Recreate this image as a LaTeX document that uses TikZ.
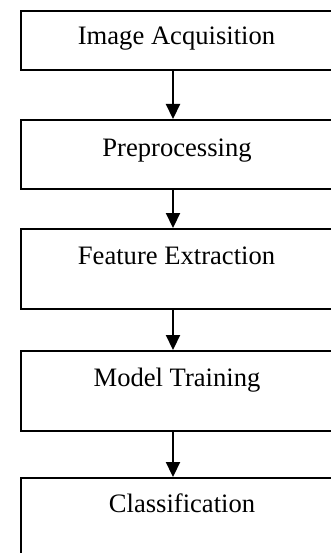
\documentclass[tikz,border=0pt]{standalone}
\usepackage{fontspec}
\setmainfont{Liberation Serif}
\usetikzlibrary{arrows.meta}
\begin{document}
\begin{tikzpicture}[x=1pt,y=-1pt,
  stagebox/.style={draw=black,line width=1.8pt,rectangle,inner sep=0pt,anchor=north west},
  stagetext/.style={anchor=base,inner sep=0pt,font=\fontsize{26.6}{30}\selectfont},
  flowarrow/.style={line width=2.2pt,-{Triangle[length=15pt,width=14pt]}}]
\useasboundingbox (0,0) rectangle (331,553);
\clip (0,0) rectangle (331,553);
\node[stagebox,minimum width=330pt,minimum height=59pt] (b1) at (20,10) {};
\node[stagebox,minimum width=330pt,minimum height=69pt] (b2) at (20,119) {};
\node[stagebox,minimum width=330pt,minimum height=80pt] (b3) at (20,228) {};
\node[stagebox,minimum width=330pt,minimum height=80pt] (b4) at (20,350) {};
\node[stagebox,minimum width=330pt,minimum height=100pt] (b5) at (20,477) {};
\node[stagetext] (t1) at (176.5,45) {Image Acquisition};
\node[stagetext] (t2) at (177,157) {Preprocessing};
\node[stagetext] (t3) at (176.5,264) {Feature Extraction};
\node[stagetext] (t4) at (177,386) {Model Training};
\node[stagetext] (t5) at (182,512) {Classification};
\coordinate (ax) at (173,0);
\draw[flowarrow] (b1.south -| ax) -- (b2.north -| ax);
\draw[flowarrow] (b2.south -| ax) -- (b3.north -| ax);
\draw[flowarrow] (b3.south -| ax) -- (b4.north -| ax);
\draw[flowarrow] (b4.south -| ax) -- (b5.north -| ax);
\end{tikzpicture}
\end{document}
